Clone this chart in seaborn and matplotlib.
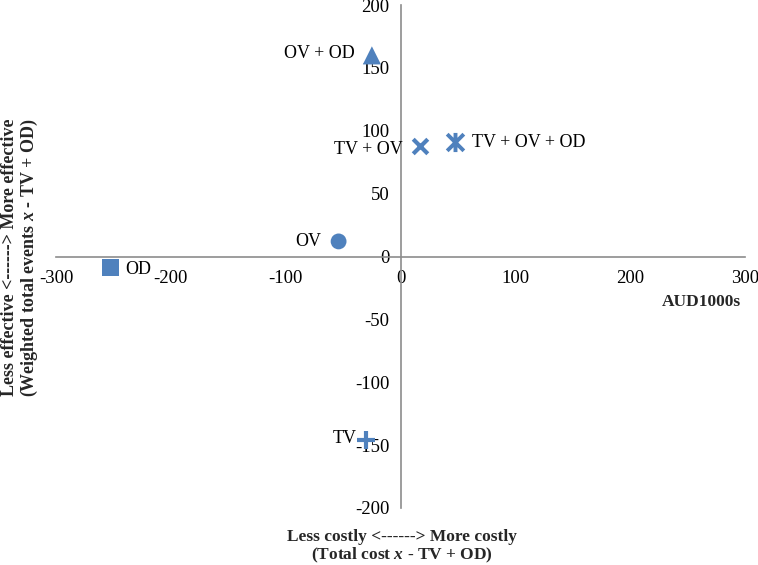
import matplotlib
matplotlib.use("Agg")
import matplotlib.pyplot as plt
import seaborn as sns
from matplotlib.path import Path

sns.set_theme(style="white")
plt.rcParams["font.family"] = ["Liberation Serif", "DejaVu Serif"]
plt.rcParams["mathtext.fontset"] = "custom"
plt.rcParams["mathtext.it"] = "Liberation Serif:italic:bold"
plt.rcParams["mathtext.rm"] = "Liberation Serif:bold"

# strategies: incremental cost (AUD1000s) vs incremental effect, relative to TV + OD
labels = ["OD", "OV", "OV + OD", "TV + OV", "TV + OV + OD", "TV"]
cost = [-253, -54, -25, 17, 47, -30]
effect = [-9, 12, 160, 88, 91, -146]

x_ticks = [-300, -200, -100, 0, 100, 200, 300]
y_ticks = [-200, -150, -100, -50, 0, 50, 100, 150, 200]

BLUE = "#4F81BD"

asterisk = Path(
    [(-1, -1), (1, 1), (-1, 1), (1, -1), (0, -1.15), (0, 1.15)],
    [Path.MOVETO, Path.LINETO, Path.MOVETO, Path.LINETO, Path.MOVETO, Path.LINETO],
)
marker_style = {
    "OD": dict(marker="s", s=150),
    "OV": dict(marker="o", s=130),
    "OV + OD": dict(marker="^", s=170),
    "TV + OV": dict(marker="x", s=110, linewidth=3),
    "TV + OV + OD": dict(marker=asterisk, s=190, linewidth=2.8),
    "TV": dict(marker="+", s=150, linewidth=3),
}
# label offsets in pixels, with alignment
label_pos = {
    "OD": (15, -2, "left"),
    "OV": (-17, 0, "right"),
    "OV + OD": (-17, 2, "right"),
    "TV + OV": (-17, -4, "right"),
    "TV + OV + OD": (17, 0, "left"),
    "TV": (-9, 2, "right"),
}

fig = plt.figure(figsize=(7.58, 5.65), dpi=100)
ax = fig.add_axes([0.074, 0.101, 0.909, 0.890])

for lab, cx, ey in zip(labels, cost, effect):
    st = marker_style[lab]
    if st["marker"] in ("x", "+") or st["marker"] is asterisk:
        kw = dict(color=BLUE, edgecolor=BLUE, linewidth=st.get("linewidth", 2))
    else:
        kw = dict(color=BLUE, edgecolor="none")
    sns.scatterplot(x=[cx], y=[ey], marker=st["marker"], s=st["s"], ax=ax, zorder=3, **kw)
    dx, dy, ha = label_pos[lab]
    ax.annotate(lab, (cx, ey), xytext=(dx, dy), textcoords="offset pixels",
                ha=ha, va="center", fontsize=13, color="black")

ax.set_xlim(-300, 300)
ax.set_ylim(-200, 200)
ax.set_xticks(x_ticks)
ax.set_yticks(y_ticks)
ax.set_xticklabels([str(v) for v in x_ticks])
ax.set_yticklabels([str(v) for v in y_ticks])

for side in ["top", "right"]:
    ax.spines[side].set_visible(False)
for side in ["left", "bottom"]:
    ax.spines[side].set_position(("data", 0))
    ax.spines[side].set_color("#8c8c8c")
    ax.spines[side].set_linewidth(1.2)
ax.tick_params(axis="both", direction="out", length=5, width=1, color="#8c8c8c",
               labelsize=13.5, labelcolor="black", pad=3)
ax.tick_params(axis="x", pad=5)

ax.text(296, -36, "AUD1000s", ha="right", va="center", fontsize=12.5, fontweight="bold")

fig.text(0.53, 0.032, "Less costly <------> More costly\n(Total cost $x$ - TV + OD)",
         ha="center", va="center", fontsize=12.5, fontweight="bold", linespacing=1.05)
fig.text(0.027, 0.545, "Less effective <------> More effective\n(Weighted total events $x$ - TV + OD)",
         ha="center", va="center", rotation=90, fontsize=13, fontweight="bold",
         linespacing=1.0)

fig.savefig("out.png", dpi=100)
